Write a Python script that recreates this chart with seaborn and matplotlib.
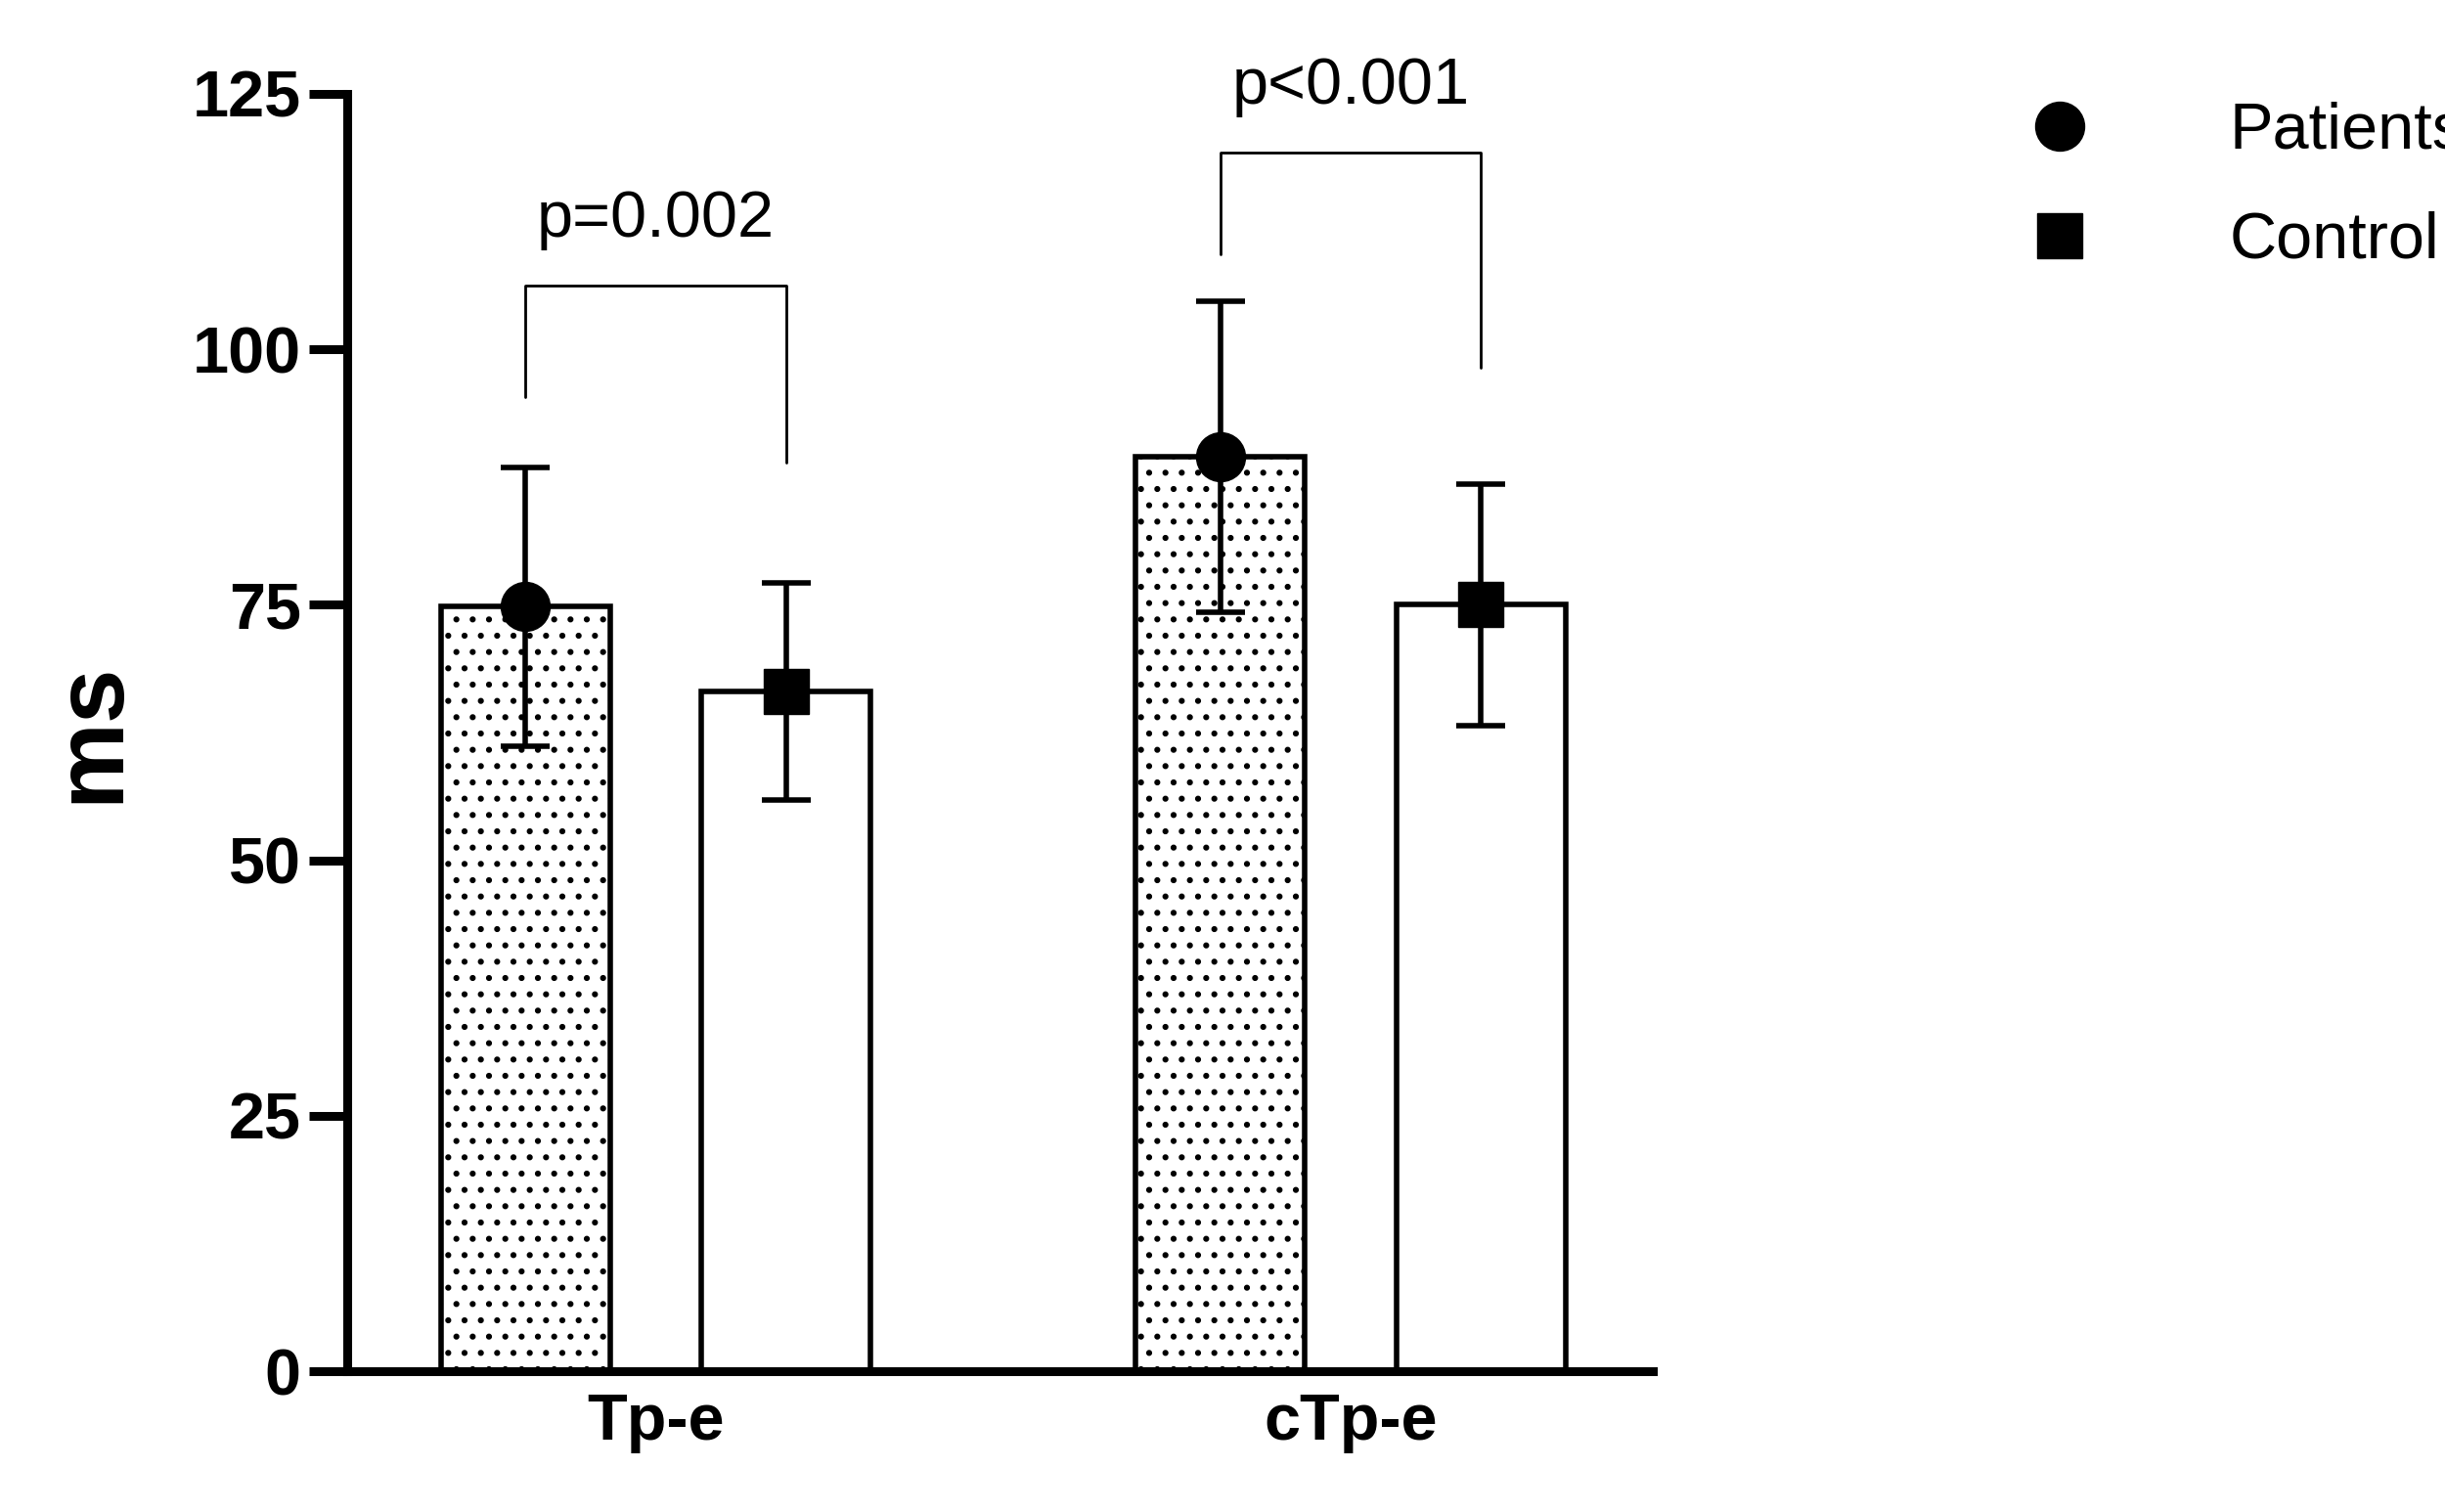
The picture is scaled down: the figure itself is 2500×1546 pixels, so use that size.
import numpy as np
import pandas as pd
import matplotlib
matplotlib.use('Agg')
import matplotlib.pyplot as plt
import seaborn as sns
from matplotlib.lines import Line2D

# Data
measures = ['Tp-e', 'cTp-e']
groups = ['Patients', 'Control']
means_patients = [74.8, 89.5]
means_control = [66.5, 75.0]
sd_patients = [13.6, 15.2]
sd_control = [10.6, 11.8]
p_labels = ['p=0.002', 'p<0.001']

sns.set_theme(style='white')
plt.rcParams['font.family'] = ['Liberation Sans', 'DejaVu Sans']
plt.rcParams['text.color'] = 'black'
plt.rcParams['xtick.color'] = 'black'
plt.rcParams['ytick.color'] = 'black'
plt.rcParams['axes.labelcolor'] = 'black'
plt.rcParams['hatch.linewidth'] = 2.0

df = pd.DataFrame({
    'measure': measures * 2,
    'group': ['Patients'] * 2 + ['Control'] * 2,
    'value': means_patients + means_control,
    'sd': sd_patients + sd_control,
})

fig = plt.figure(figsize=(25, 15.46), dpi=100)
ax = fig.add_axes([0.142, 0.093, 0.534, 0.845])

sns.barplot(data=df, x='measure', y='value', hue='group', order=measures,
            hue_order=groups, width=0.75, gap=0.35, palette=['white', 'white'],
            edgecolor='black', linewidth=4, errorbar=None, legend=False, ax=ax)

n = len(measures)
bars = ax.patches[:2 * n]
for i in range(n):
    bars[i].set_hatch('.')

markers = {'Patients': 'o', 'Control': 's'}
for i, patch in enumerate(bars):
    row = df.iloc[i]
    xc = patch.get_x() + patch.get_width() / 2
    ax.errorbar(xc, row['value'], yerr=row['sd'], fmt=markers[row['group']],
                color='black', markersize=36 if row['group'] == 'Patients' else 33,
                elinewidth=4, capsize=18, capthick=4, zorder=5)

# significance brackets
bracket = [(95.3, 106.2, 88.9), (109.3, 119.2, 98.2)]
for j in range(n):
    x1 = bars[j].get_x() + bars[j].get_width() / 2
    x2 = bars[j + n].get_x() + bars[j + n].get_width() / 2
    yl, yt, yr = bracket[j]
    ax.plot([x1, x1, x2, x2], [yl, yt, yt, yr], color='black', lw=2, clip_on=False)
    ax.text((x1 + x2) / 2, yt + 3.5, p_labels[j], ha='center', va='bottom',
            fontsize=48, clip_on=False)

ax.set_ylim(0, 125)
ax.set_yticks([0, 25, 50, 75, 100, 125])
ax.set_xlim(-0.444, 1.435)
ax.set_xlabel('')
ax.set_ylabel('ms', fontsize=72, fontweight='bold', labelpad=40)
for s in ['top', 'right']:
    ax.spines[s].set_visible(False)
for s in ['left', 'bottom']:
    ax.spines[s].set_linewidth(6.5)
    ax.spines[s].set_color('black')
ax.tick_params(axis='y', length=28, width=6.5, labelsize=48, pad=6, left=True)
ax.tick_params(axis='x', length=0, labelsize=48, pad=16)
for lab in ax.get_xticklabels() + ax.get_yticklabels():
    lab.set_fontweight('bold')

handles = [Line2D([], [], marker='o', color='black', ls='none', markersize=36),
           Line2D([], [], marker='s', color='black', ls='none', markersize=33)]
fig.legend(handles, groups, loc='upper left', bbox_to_anchor=(0.805, 0.95),
           frameon=False, fontsize=48, handletextpad=1.6, labelspacing=0.75,
           borderaxespad=0)

fig.savefig('out.png', dpi=100)
